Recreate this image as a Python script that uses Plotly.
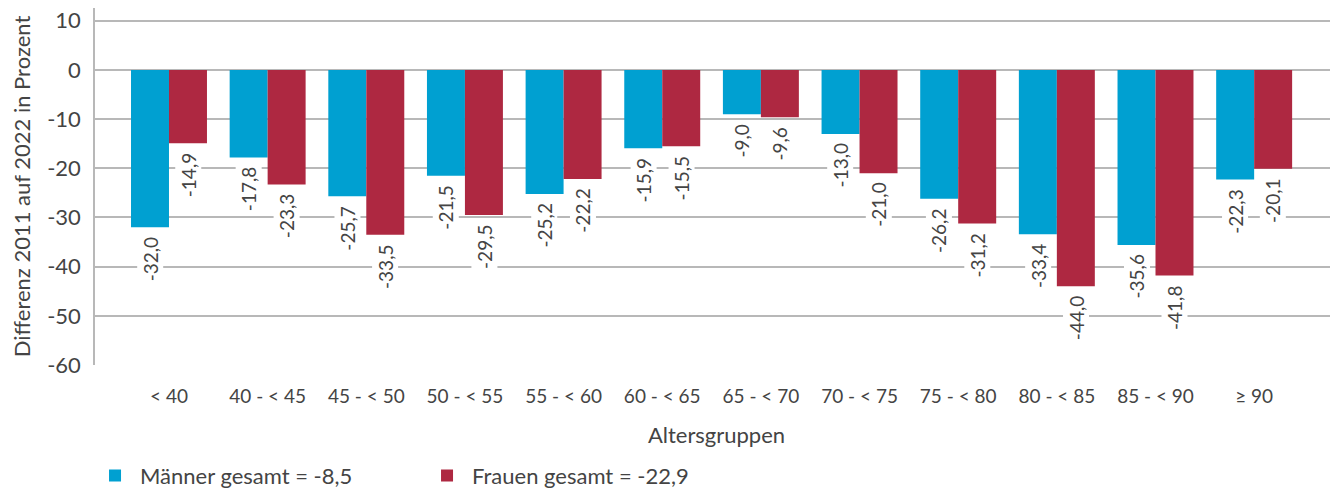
import plotly.graph_objects as go

groups = ["< 40", "40 - < 45", "45 - < 50", "50 - < 55", "55 - < 60", "60 - < 65",
          "65 - < 70", "70 - < 75", "75 - < 80", "80 - < 85", "85 - < 90", "≥ 90"]
maenner = [-32.0, -17.8, -25.7, -21.5, -25.2, -15.9, -9.0, -13.0, -26.2, -33.4, -35.6, -22.3]
frauen = [-14.9, -23.3, -33.5, -29.5, -22.2, -15.5, -9.6, -21.0, -31.2, -44.0, -41.8, -20.1]
maenner_gesamt = -8.5
frauen_gesamt = -22.9
y_ticks = [10, 0, -10, -20, -30, -40, -50, -60]

blue = "#00A0D1"
red = "#AE2841"
grey_txt = "#444444"
font = "Lato"


def fmt(v):
    return f"{v:.1f}".replace(".", ",")


fig = go.Figure()
fig.add_trace(go.Bar(x=groups, y=maenner, name="Männer gesamt = " + fmt(maenner_gesamt),
                     marker=dict(color=blue, line=dict(width=0))))
fig.add_trace(go.Bar(x=groups, y=frauen, name="Frauen gesamt = " + fmt(frauen_gesamt),
                     marker=dict(color=red, line=dict(width=0))))

# value labels below the bar ends, rotated, with white knockout of gridlines
bw = 0.77 / 2
for i in range(len(groups)):
    for v, off in ((maenner[i], -bw / 2), (frauen[i], bw / 2)):
        fig.add_annotation(x=i + off, y=v, text=fmt(v), textangle=-90, showarrow=False,
                           xanchor="center", yanchor="top", yshift=-8, bgcolor="white",
                           borderpad=1, font=dict(family=font, size=19, color=grey_txt))

# page body adds 8px margin, so the figure is shifted by 8px
fig.update_layout(
    width=1330, height=482,
    margin=dict(l=87, r=0, t=0, b=125, autoexpand=False),
    plot_bgcolor="white", paper_bgcolor="white",
    barmode="group", bargap=0.23, bargroupgap=0,
    font=dict(family=font, size=18, color=grey_txt),
    showlegend=True,
    legend=dict(orientation="h", x=-0.004, y=-0.31, xanchor="left", yanchor="middle",
                entrywidth=277, entrywidthmode="pixels", itemwidth=40,
                font=dict(family=font, size=22, color=grey_txt)),
)
fig.update_yaxes(range=[-60, 12.6], tickvals=y_ticks, ticktext=[str(t) for t in y_ticks],
                 automargin=False, ticklabeloverflow="allow",
                 showgrid=True, gridcolor="#b8b8b8", gridwidth=1.5,
                 zeroline=True, zerolinecolor="#b8b8b8", zerolinewidth=1.5,
                 showline=True, linecolor="#b8b8b8", linewidth=1.5,
                 ticks="", ticklabelstandoff=8, tickfont=dict(size=22, color=grey_txt),
                 title=dict(text="Differenz 2011 auf 2022 in Prozent", standoff=16,
                            font=dict(size=22, color=grey_txt)))
fig.update_xaxes(range=[-0.75, 11.85], automargin=False, showgrid=False, showline=False, ticks="",
                 ticklabelstandoff=18, tickfont=dict(size=19, color=grey_txt),
                 title=dict(text="Altersgruppen", standoff=21, font=dict(size=22, color=grey_txt)))

fig.write_html("out.html")
